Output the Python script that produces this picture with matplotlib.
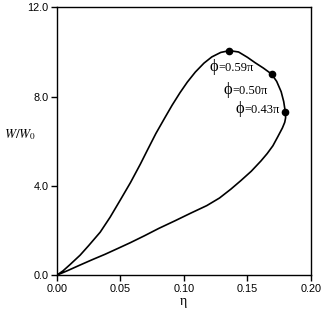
import matplotlib
matplotlib.use("Agg")
import matplotlib.pyplot as plt

# Loop curve W/W0 vs eta, traced from origin along the upper branch and back along the lower branch
eta = [0.0, 0.005, 0.0105, 0.0184, 0.025, 0.0342, 0.042, 0.050, 0.058, 0.0658,
       0.0711, 0.078, 0.085, 0.0908, 0.097, 0.1027, 0.109, 0.1158, 0.122, 0.129,
       0.1358, 0.143, 0.150, 0.156, 0.1625, 0.169, 0.173, 0.1765, 0.1785, 0.1798,
       0.1800, 0.1793, 0.1775, 0.1738, 0.170, 0.1655, 0.1606, 0.153, 0.1448,
       0.137, 0.128, 0.118, 0.1053, 0.093, 0.0803, 0.069, 0.0579, 0.048, 0.038,
       0.028, 0.018, 0.009, 0.0]
W = [0.0, 0.20, 0.48, 0.90, 1.32, 1.93, 2.60, 3.37, 4.15, 4.98,
     5.58, 6.35, 7.05, 7.62, 8.18, 8.65, 9.10, 9.50, 9.78, 9.98,
     10.06, 10.00, 9.76, 9.52, 9.28, 9.01, 8.68, 8.22, 7.78, 7.30,
     7.05, 6.85, 6.60, 6.20, 5.80, 5.45, 5.12, 4.66, 4.24,
     3.86, 3.46, 3.12, 2.78, 2.44, 2.10, 1.77, 1.46, 1.20, 0.94,
     0.70, 0.45, 0.22, 0.0]

# Marked points
dot_eta = [0.1358, 0.1690, 0.1798]
dot_W = [10.06, 9.01, 7.30]
dot_labels = ["0.59", "0.50", "0.43"]
label_pos = [(0.1203, 9.34), (0.1311, 8.30), (0.1405, 7.45)]

xticks = [0.00, 0.05, 0.10, 0.15, 0.20]
yticks = [0.0, 4.0, 8.0, 12.0]

fig = plt.figure(figsize=(3.23, 3.18), dpi=100)
ax = fig.add_axes([0.1755, 0.1343, 0.7875, 0.8427])
ax.plot(eta, W, color="black", lw=1.2, solid_joinstyle="round")
ax.plot(dot_eta, dot_W, "o", color="black", ms=4.5)

serif = ["Liberation Serif", "DejaVu Serif"]
for (lx, ly), lab in zip(label_pos, dot_labels):
    t = ax.text(lx, ly, "\u03d5", fontsize=12, family=serif, va="center", ha="left")
    ax.annotate("=" + lab + "\u03c0", xy=(1, 0.45), xycoords=t, xytext=(0, 0),
                textcoords="offset points", fontsize=9, family=serif,
                va="center", ha="left")

ax.set_xlim(0, 0.2)
ax.set_ylim(0, 12)
ax.set_xticks(xticks)
ax.set_xticklabels([f"{v:.2f}" for v in xticks])
ax.set_yticks(yticks)
ax.set_yticklabels([f"{v:.1f}" for v in yticks])
ax.tick_params(direction="out", length=4, width=1, labelsize=7.8, pad=2)
for lab in ax.get_xticklabels() + ax.get_yticklabels():
    lab.set_family(["Liberation Sans", "DejaVu Sans"])
for s in ax.spines.values():
    s.set_linewidth(1)

fig.text(20 / 323, 1 - 135 / 318, "$\\mathit{W/W_0}$", fontsize=9.5,
         ha="center", va="center", family=serif, math_fontfamily="stix")
fig.text(183 / 323, 1 - 295 / 318, "\u03b7", fontsize=10, ha="center",
         va="top", family=serif)

fig.savefig("out.png", dpi=100)
